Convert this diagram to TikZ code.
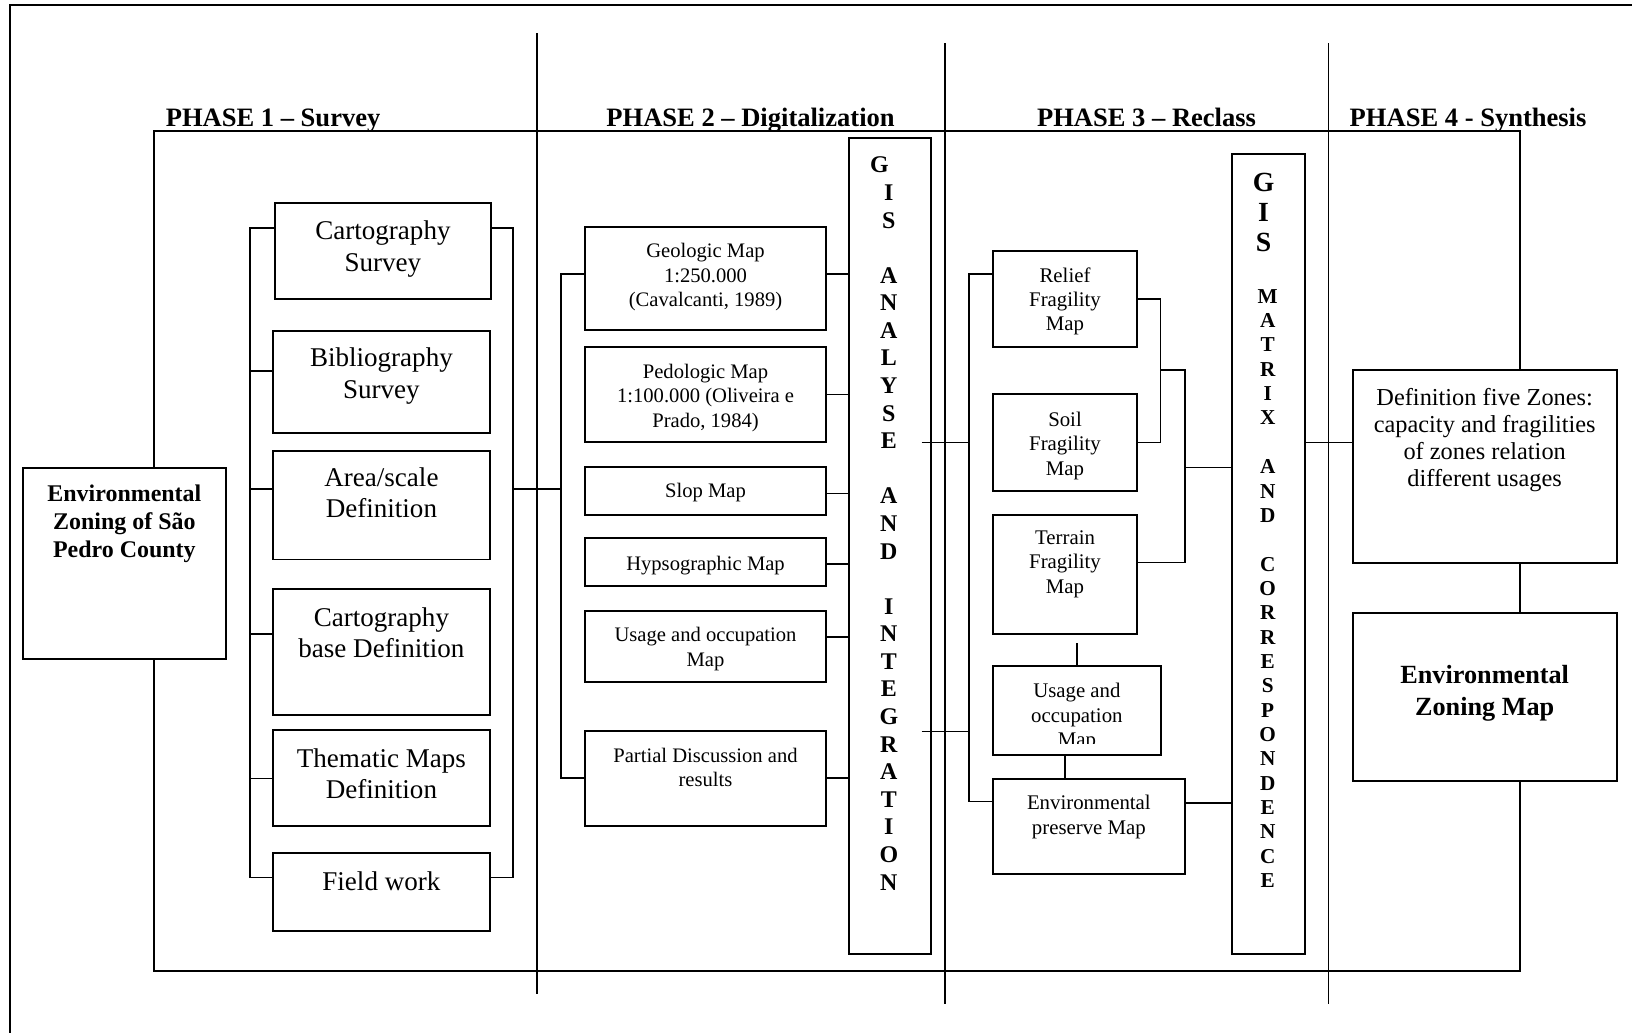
\documentclass[tikz,border=0pt]{standalone}
\usepackage{fontspec}
\setmainfont{Liberation Serif}
\usetikzlibrary{calc}
\tikzset{
  boxs/.style={draw, rectangle, line width=0.9pt, inner sep=0pt, outer sep=0pt},
  ln/.style={line width=0.8pt},
  ttl/.style={font=\fontsize{12.75}{15}\selectfont\bfseries, inner sep=0pt},
  tA/.style={font=\fontsize{13}{15}\selectfont, align=center, inner sep=0pt},
  tB/.style={font=\fontsize{9.9}{11.8}\selectfont, align=center, inner sep=0pt},
  tC/.style={font=\fontsize{10}{11.75}\selectfont, align=center, inner sep=0pt},
  tD/.style={font=\fontsize{11.7}{13}\selectfont, align=center, inner sep=0pt},
  tE/.style={font=\fontsize{12.6}{15.2}\selectfont\bfseries, align=center, inner sep=0pt},
  tF/.style={font=\fontsize{11.5}{13.5}\selectfont\bfseries, align=center, inner sep=0pt},
  gisA/.style={font=\fontsize{11.5}{13.25}\selectfont\bfseries, align=center, inner sep=0pt},
  gisB/.style={font=\fontsize{13.3}{14.4}\selectfont\bfseries, align=center, inner sep=0pt},
  gisC/.style={font=\fontsize{10.2}{11.7}\selectfont\bfseries, align=center, inner sep=0pt},
}
\newcommand{\bx}[8]{%
  \node[boxs, minimum width={((#4)-(#2))*0.5pt}, minimum height={((#5)-(#3))*0.5pt}] (#1) at ({((#2)+(#4))/2},{((#3)+(#5))/2}) {};
  \node[#6, anchor=north] (#1-t) at ({((#2)+(#4))/2},#7) {#8};}
\begin{document}
\begin{tikzpicture}[x=0.5pt,y=-0.5pt]
\useasboundingbox (0,0) rectangle (1568,992);
% outer frame
\draw[ln] (1568,5) -- (9.5,5) -- (9.5,992);
% phase separators
\draw[ln] (516,32) -- (516,954.8);
\draw[ln] (908,41.6) -- (908,964.5);
\draw[ln] (1276.3,41.6) -- (1276.3,964.6);
% titles
\node[ttl, anchor=base west] (p1) at (158.9,121.7) {PHASE 1 – Survey};
\node[ttl, anchor=base west] (p2) at (582.2,121.7) {PHASE 2 – Digitalization};
\node[ttl, anchor=base west] (p3) at (996,121.7) {PHASE 3 – Reclass};
\node[ttl, anchor=base west] (p4) at (1296.4,121.7) {PHASE 4 - Synthesis};

% left box
\bx{envz}{22}{449.6}{217}{633.5}{tF}{465.6}{Environmental\\Zoning of São\\Pedro County}
% phase 1
\bx{cs}{264}{194.7}{471.8}{287.6}{tA}{212}{Cartography\\Survey}
\bx{bs}{262.2}{317.7}{470.7}{416.3}{tA}{334}{Bibliography\\Survey}
\bx{as}{262.2}{433.3}{470.7}{537.6}{tA}{449}{Area/scale\\Definition}
\bx{cb}{262.2}{566}{470.7}{686.7}{tA}{583}{Cartography\\base Definition}
\bx{tm}{262.2}{701.6}{470.7}{793.6}{tA}{719}{Thematic Maps\\Definition}
\bx{fw}{262.2}{819.3}{470.7}{894.2}{tA}{837}{Field work}
% phase 2
\bx{geo}{562.4}{217.8}{793.3}{317}{tB}{233.3}{Geologic Map\\1:250.000\\(Cavalcanti, 1989)}
\bx{ped}{562.4}{333}{793.3}{425}{tB}{349.3}{Pedologic Map\\1:100.000 (Oliveira e\\Prado, 1984)}
\bx{slo}{562.4}{448.4}{793.3}{494.8}{tB}{464}{Slop Map}
\bx{hyp}{562.4}{517.2}{793.3}{562.9}{tB}{534}{Hypsographic Map}
\bx{uso}{562.4}{586.7}{793.3}{655.5}{tB}{602.3}{Usage and occupation\\Map}
\bx{par}{562.4}{702}{793.3}{794}{tB}{718.3}{Partial Discussion and\\results}
% GIS column 1
\node[boxs, minimum width={(894.5-815.7)*0.5pt}, minimum height={(916.6-132.9)*0.5pt}] (gis1) at ({(815.7+894.5)/2},{(132.9+916.6)/2}) {};
\node[gisA, anchor=north] (gis1-t) at (854,150.5) {G\hspace*{9pt}\\I\\S\\[13.25pt]A\\N\\A\\L\\Y\\S\\E\\[13.25pt]A\\N\\D\\[13.25pt]I\\N\\T\\E\\G\\R\\A\\T\\I\\O\\N};
% phase 3
\bx{rel}{953.8}{240.8}{1092.7}{333.1}{tC}{256.5}{Relief\\Fragility\\Map}
\bx{soil}{953.8}{378.9}{1092.7}{471.4}{tC}{395.2}{Soil\\Fragility\\Map}
\bx{ter}{953.8}{494.8}{1092.7}{609.2}{tC}{509.4}{Terrain\\Fragility\\Map}
\node[boxs, minimum width={(1115.5-953.8)*0.5pt}, minimum height={(725-640.2)*0.5pt}] (use) at ({(953.8+1115.5)/2},{(640.2+725)/2}) {};
\begin{scope}
  \clip (953.8,640.2) rectangle (1115.5,714.5);
  \node[tC, anchor=north] (use-t) at ({(953.8+1115.5)/2},656.2) {Usage and\\occupation\\Map};
\end{scope}
\bx{env}{953.8}{748.4}{1138.5}{840}{tC}{763.8}{Environmental\\preserve Map}
% GIS column 2
\node[boxs, minimum width={(1254.2-1184)*0.5pt}, minimum height={(916.3-148)*0.5pt}] (gis2) at ({(1184+1254.2)/2},{(148+916.3)/2}) {};
\node[gisB, anchor=north] (gis2-a) at (1214,165.6) {G\\I\\S};
\node[gisC, anchor=north] (gis2-b) at (1218,277.5) {M\\A\\T\\R\\I\\X\\[11.7pt]A\\N\\D\\[11.7pt]C\\O\\R\\R\\E\\S\\P\\O\\N\\D\\E\\N\\C\\E};
% phase 4
\bx{def}{1299.6}{355.5}{1553.3}{540.7}{tD}{373}{Definition five Zones:\\capacity and fragilities\\of zones relation\\different usages}
\bx{ezm}{1299.6}{589}{1553.3}{750.4}{tE}{638.7}{Environmental\\Zoning Map}

% spine coordinates
\coordinate (s1) at (240,0);
\coordinate (s2) at (493,0);
\coordinate (s3) at (539,0);
\coordinate (s4) at (931.3,0);
\coordinate (s5) at (1115,0);
\coordinate (s6) at (1138.5,0);
\coordinate (lp) at (147.8,0);
\coordinate (rp) at (1460.6,0);
\coordinate (g1a) at ($(gis1.east |- 0,425)+(-9,0)$);
\coordinate (g1b) at ($(gis1.east |- 0,702.7)+(-9,0)$);

% big loop
\draw[ln] (envz.north -| lp) -- (lp |- 0,125.6) -- (rp |- 0,125.6) -- (def.north -| rp);
\draw[ln] (envz.south -| lp) -- (lp |- 0,932.6) -- (rp |- 0,932.6) -- (ezm.south -| rp);
\draw[ln] (def.south -| rp) -- (ezm.north -| rp);

% phase 1 brackets
\draw[ln] (cs.west |- 0,219) -- (s1 |- 0,219) -- (s1 |- 0,843) -- (fw.west |- 0,843);
\draw[ln] (s1 |- 0,356.5) -- (bs.west |- 0,356.5);
\draw[ln] (s1 |- 0,470) -- (as.west |- 0,470);
\draw[ln] (s1 |- 0,609) -- (cb.west |- 0,609);
\draw[ln] (s1 |- 0,748) -- (tm.west |- 0,748);
\draw[ln] (cs.east |- 0,219) -- (s2 |- 0,219) -- (s2 |- 0,843) -- (fw.east |- 0,843);
\draw[ln] (s2 |- 0,470) -- (s3 |- 0,470);

% phase 2 brackets
\draw[ln] (geo.west |- 0,263) -- (s3 |- 0,263) -- (s3 |- 0,747.7) -- (par.west |- 0,747.7);
\draw[ln] (geo.east |- 0,263) -- (gis1.west |- 0,263);
\draw[ln] (ped.east |- 0,379) -- (gis1.west |- 0,379);
\draw[ln] (slo.east |- 0,474) -- (gis1.west |- 0,474);
\draw[ln] (hyp.east |- 0,542) -- (gis1.west |- 0,542);
\draw[ln] (uso.east |- 0,612) -- (gis1.west |- 0,612);
\draw[ln] (par.east |- 0,747.7) -- (gis1.west |- 0,747.7);
\draw[ln] (g1a) -- (s4 |- g1a);
\draw[ln] (g1b) -- (s4 |- g1b);

% phase 3 brackets
\draw[ln] (rel.west |- 0,263) -- (s4 |- 0,263) -- (s4 |- 0,770) -- (env.west |- 0,770);
\draw[ln] (rel.east |- 0,287.3) -- (s5 |- 0,287.3) -- (s5 |- 0,425) -- (soil.east |- 0,425);
\draw[ln] (s5 |- 0,355.6) -- (s6 |- 0,355.6) -- (s6 |- 0,540.5) -- (ter.east |- 0,540.5);
\draw[ln] (s6 |- 0,449) -- (gis2.west |- 0,449);
\draw[ln] (use.north) -- (use.north |- 0,617.3);
\draw[ln] (use.south -| ter.south) -- (env.north -| ter.south);
\draw[ln] (env.east |- 0,771.5) -- (gis2.west |- 0,771.5);

% to phase 4
\draw[ln] (gis2.east |- 0,425) -- (def.west |- 0,425);
\end{tikzpicture}
\end{document}
